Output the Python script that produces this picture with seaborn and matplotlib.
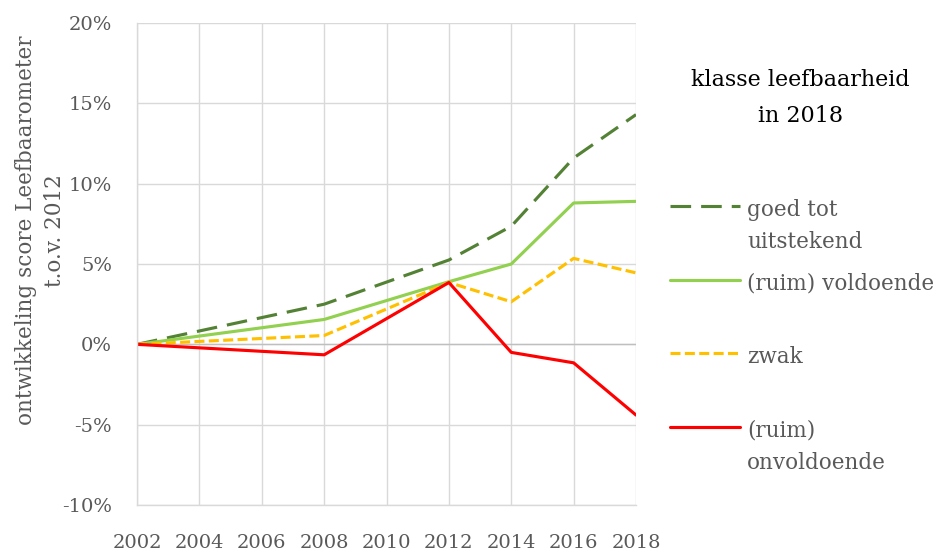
import numpy as np
import pandas as pd
import seaborn as sns
import matplotlib
matplotlib.use('Agg')
import matplotlib.pyplot as plt
from matplotlib.ticker import PercentFormatter, MultipleLocator

# data (percent change vs. 2012 base)
jaren = [2002, 2008, 2012, 2014, 2016, 2018]
goed_tot_uitstekend = [0.0, 2.5, 5.25, 7.35, 11.6, 14.3]
ruim_voldoende = [0.0, 1.55, 3.9, 5.0, 8.8, 8.9]
zwak = [0.0, 0.55, 3.85, 2.65, 5.35, 4.45]
ruim_onvoldoende = [0.0, -0.65, 3.85, -0.5, -1.15, -4.4]

klassen = ['goed tot\nuitstekend', '(ruim) voldoende', 'zwak', '(ruim)\nonvoldoende']
kleuren = ['#548235', '#92D050', '#FFC000', '#FF0000']
streep = [(6.6, 3.2), '', (3.2, 1.4), '']

xticks = list(range(2002, 2019, 2))

GRIJS = '#595959'


def main():
    sns.set_style('white')
    plt.rcParams['font.family'] = ['DejaVu Serif']
    plt.rcParams['axes.unicode_minus'] = False

    # long table for seaborn
    df = pd.concat([
        pd.DataFrame({'jaar': jaren, 'score': vals, 'klasse': k})
        for k, vals in zip(klassen, [goed_tot_uitstekend, ruim_voldoende, zwak, ruim_onvoldoende])
    ], ignore_index=True)

    fig = plt.figure(figsize=(9.36, 5.52), dpi=100)
    ax = fig.add_axes([0.1464, 0.0851, 0.5331, 0.8732])

    sns.lineplot(data=df, x='jaar', y='score', hue='klasse', style='klasse',
                 palette=dict(zip(klassen, kleuren)), dashes=dict(zip(klassen, streep)),
                 hue_order=klassen, style_order=klassen,
                 linewidth=2.25, ax=ax, legend=True)

    ax.set_xlim(2002, 2018)
    ax.set_ylim(-10, 20)
    ax.set_xticks(xticks)
    ax.yaxis.set_major_locator(MultipleLocator(5))
    ax.yaxis.set_major_formatter(PercentFormatter(decimals=0))
    ax.grid(True, color='#d9d9d9', linewidth=1.0)
    ax.axhline(0, color='#bfbfbf', linewidth=1.0, zorder=1)
    ax.set_axisbelow(True)
    for s in ['top', 'right']:
        ax.spines[s].set_visible(False)
    for s in ['left', 'bottom']:
        ax.spines[s].set_color('#d9d9d9')
        ax.spines[s].set_linewidth(1.0)
    ax.tick_params(axis='both', length=0, labelsize=14, labelcolor=GRIJS)
    ax.tick_params(axis='y', pad=18)
    ax.tick_params(axis='x', pad=21)
    ax.set_xlabel('')
    ax.set_ylabel('')

    fig.text(0.043, 0.583, 'ontwikkeling score Leefbaarometer\nt.o.v. 2012',
             rotation=90, ha='center', va='center', multialignment='center',
             fontsize=15.5, color=GRIJS, linespacing=1.4)

    # legend on the right: every entry gets two text lines, handle on the first line
    handles, labels = ax.get_legend_handles_labels()
    ax.get_legend().remove()
    labels = [l if '\n' in l else l + '\n ' for l in labels]
    leg = fig.legend(handles, labels, loc='upper left', bbox_to_anchor=(0.716, 0.64),
                     frameon=False, fontsize=15.5, handlelength=3.25, handletextpad=0.33,
                     labelspacing=0.9, borderaxespad=0, borderpad=0)
    for t in leg.get_texts():
        t.set_color(GRIJS)
        t.set_linespacing(1.6)
    for ln in leg.get_lines():
        ln.set_linewidth(2.25)
    for col in leg._legend_handle_box.get_children():
        for row in col.get_children():
            row.align = 'top'

    fig.text(0.855, 0.823, 'klasse leefbaarheid\nin 2018', ha='center', va='center',
             multialignment='center', fontsize=16, color='black', linespacing=1.8)

    fig.savefig('out.png', dpi=100)


if __name__ == '__main__':
    main()
